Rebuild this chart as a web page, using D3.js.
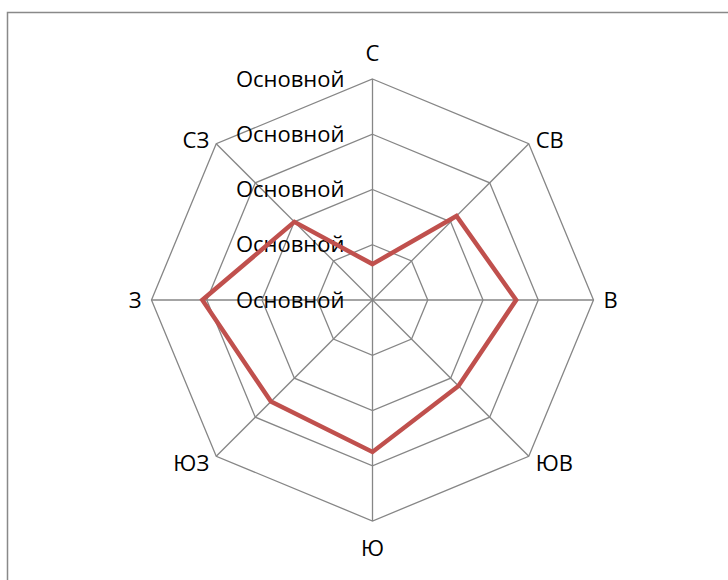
<!DOCTYPE html>
<html>
<head>
<meta charset="utf-8">
<script src="https://cdn.jsdelivr.net/npm/d3@7"></script>
<style>
  html, body { margin: 0; padding: 0; background: #fff; }
  svg { display: block; }
  text { font-family: "Open Sans", "Noto Sans", sans-serif; fill: #000; }
</style>
</head>
<body>
<svg id="chart" width="728" height="580"></svg>
<script>
// Wind directions, clockwise from north
const directions = ["С", "СВ", "В", "ЮВ", "Ю", "ЮЗ", "З", "СЗ"];
// Series values per direction
const values = [0.65, 2.15, 2.6, 2.2, 2.75, 2.6, 3.08, 2.0];
// Radial axis ticks and their labels
const tickValues = [0, 1, 2, 3, 4];
const tickLabels = ["Основной", "Основной", "Основной", "Основной", "Основной"];

const svg = d3.select("#chart");
const cx = 372.5, cy = 300, R = 221;
const fontSize = 22;

// Outer frame of the chart area
svg.append("path")
  .attr("d", "M7.5,590 L7.5,12.5 L740,12.5")
  .attr("fill", "none")
  .attr("stroke", "#898989")
  .attr("stroke-width", 1.5);

const r = d3.scaleLinear().domain([0, 4]).range([0, R]);
const angle = d3.scaleLinear().domain([0, directions.length]).range([0, 2 * Math.PI]);

const g = svg.append("g").attr("transform", `translate(${cx},${cy})`);

const radial = d3.lineRadial()
  .angle((d, i) => angle(i))
  .radius(d => r(d))
  .curve(d3.curveLinearClosed);

// Grid rings
g.selectAll("path.ring")
  .data(tickValues.filter(t => t > 0))
  .join("path")
  .attr("class", "ring")
  .attr("d", t => radial(directions.map(() => t)))
  .attr("fill", "none")
  .attr("stroke", "#868686")
  .attr("stroke-width", 1.3);

// Spokes
g.selectAll("line.spoke")
  .data(directions)
  .join("line")
  .attr("class", "spoke")
  .attr("x1", 0).attr("y1", 0)
  .attr("x2", (d, i) => r(4) * Math.sin(angle(i)))
  .attr("y2", (d, i) => -r(4) * Math.cos(angle(i)))
  .attr("stroke", "#868686")
  .attr("stroke-width", 1.3);

// Radial tick labels, left of the north spoke
g.selectAll("text.tick")
  .data(tickValues)
  .join("text")
  .attr("class", "tick")
  .attr("x", -28)
  .attr("y", t => -r(t))
  .attr("dy", "0.35em")
  .attr("text-anchor", "end")
  .attr("font-size", fontSize)
  .text((t, i) => tickLabels[i]);

// Data series
g.append("path")
  .attr("d", radial(values))
  .attr("fill", "none")
  .attr("stroke", "#C0504D")
  .attr("stroke-width", 4.5)
  .attr("stroke-linejoin", "miter");

// Direction labels
const off = [
  { dx: 0, dy: -26, a: "middle" },
  { dx: 7, dy: -3, a: "start" },
  { dx: 10, dy: 0, a: "start" },
  { dx: 7, dy: 7, a: "start" },
  { dx: 0, dy: 27, a: "middle" },
  { dx: -7, dy: 7, a: "end" },
  { dx: -10, dy: 0, a: "end" },
  { dx: -7, dy: -3, a: "end" }
];
g.selectAll("text.dir")
  .data(directions)
  .join("text")
  .attr("class", "dir")
  .attr("x", (d, i) => r(4) * Math.sin(angle(i)) + off[i].dx)
  .attr("y", (d, i) => -r(4) * Math.cos(angle(i)) + off[i].dy)
  .attr("dy", "0.35em")
  .attr("text-anchor", (d, i) => off[i].a)
  .attr("font-size", fontSize)
  .text(d => d);
</script>
</body>
</html>
